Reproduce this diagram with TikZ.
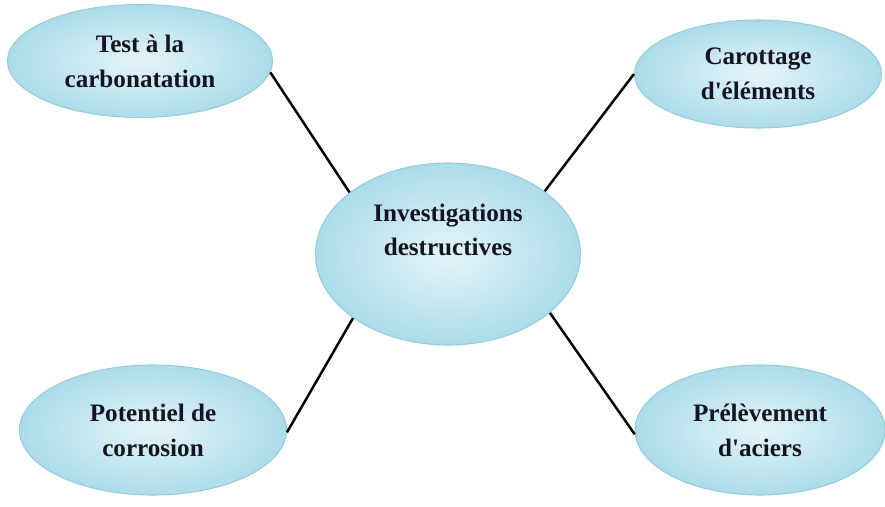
\documentclass[tikz,border=0pt]{standalone}
\usepackage{fontspec}
\setmainfont{Liberation Serif}
\usetikzlibrary{shapes,positioning}

\definecolor{ellrim}{RGB}{150,204,220}
\definecolor{ellout}{RGB}{172,220,233}
\definecolor{ellin}{RGB}{228,244,248}
\definecolor{txtdark}{RGB}{20,20,35}

\begin{document}
\begin{tikzpicture}[
    bubble/.style={ellipse, draw=ellrim, line width=0.6pt, inner color=ellin, outer color=ellout, inner sep=0pt},
    word/.style={font=\fontsize{14.3}{19.8}\selectfont\bfseries, text=txtdark, align=center},
    link/.style={line width=1.4pt, black}
]
    \useasboundingbox (0,0) rectangle (17.7,10.12);

    \node[bubble, minimum width=5.3cm, minimum height=3.64cm] (inv) at (8.96,5.04) {};
    \node[word] (invtxt) at ([yshift=0.48cm]inv.center) {Investigations\\destructives};

    \node[bubble, word, minimum width=5.3cm, minimum height=2.26cm] (carb) at (2.8,8.9) {Test à la\\carbonatation};
    \node[bubble, word, minimum width=4.94cm, minimum height=2.16cm] (carot) at (15.16,8.64) {Carottage\\d\textquotesingle éléments};
    \node[bubble, word, minimum width=5.34cm, minimum height=2.6cm] (pot) at (3.06,1.52) {Potentiel de\\corrosion};
    \node[bubble, word, minimum width=5.0cm, minimum height=2.6cm] (prel) at (15.2,1.52) {Prélèvement\\d\textquotesingle aciers};

    \draw[link] (inv.148) -- (carb.-5);
    \draw[link] (inv.33) -- (carot.180);
    \draw[link] (inv.-146) -- (pot.-1);
    \draw[link] (inv.-30) -- (prel.182);
\end{tikzpicture}
\end{document}
